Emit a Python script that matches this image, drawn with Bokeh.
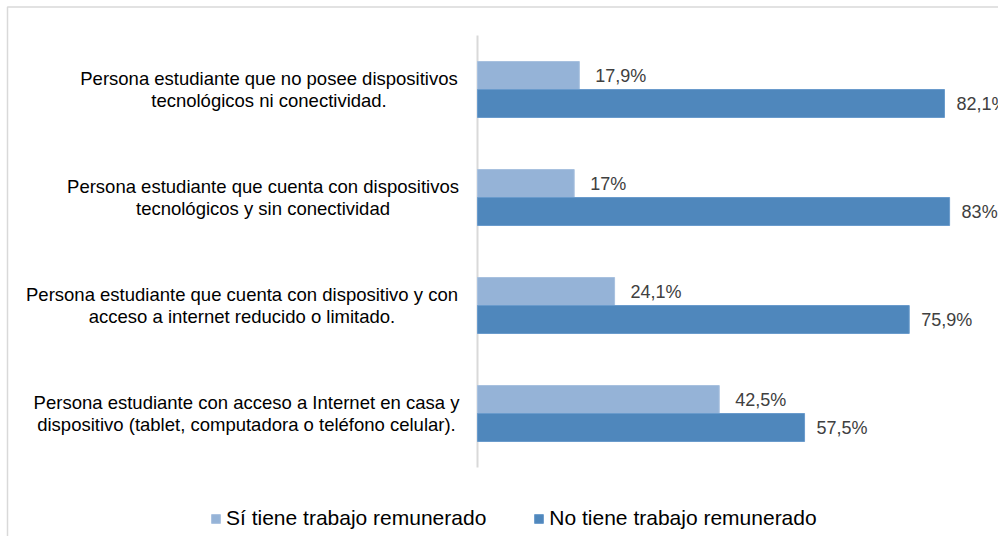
from bokeh.plotting import figure
from bokeh.models import ColumnDataSource, Range1d, Legend, LegendItem
from bokeh.transform import dodge
from bokeh.core.properties import value
from bokeh.embed import file_html
from bokeh.resources import INLINE

categories = [
    "Persona estudiante que no posee dispositivos\ntecnológicos ni conectividad.",
    "Persona estudiante que cuenta con dispositivos\ntecnológicos y sin conectividad",
    "Persona estudiante que cuenta con dispositivo y con\nacceso a internet reducido o limitado.",
    "Persona estudiante con acceso a Internet en casa y\ndispositivo (tablet, computadora o teléfono celular).",
]
si_trabajo = [17.9, 17.0, 24.1, 42.5]
no_trabajo = [82.1, 83.0, 75.9, 57.5]
si_labels = ["17,9%", "17%", "24,1%", "42,5%"]
no_labels = ["82,1%", "83%", "75,9%", "57,5%"]
series_names = ["Sí tiene trabajo remunerado", "No tiene trabajo remunerado"]

# layout: screen offsets (px from the value axis) of the category label block centres
cat_label_offsets = [-208.5, -214.5, -235.5, -231.0]

n = len(categories)
ypos = [n - 1 - i for i in range(n)]

src = ColumnDataSource(dict(
    y=ypos, cat=categories, si=si_trabajo, no=no_trabajo,
    si_lab=si_labels, no_lab=no_labels, zero=[0] * n, off=cat_label_offsets,
))

FONT = "Liberation Sans"
LIGHT = "#95B3D7"
DARK = "#4F87BC"
GRID = "#d9d9d9"

W, H = 998, 536
pxu = 5.688       # px per percentage point
x0px = 477        # screen x of the value axis
unit_y = 108.0    # px per category
top_pad = 35      # screen y of the top of the value axis

x_start = -x0px / pxu
x_end = (W - x0px) / pxu
y_end = (n - 0.5) + top_pad / unit_y
y_start = y_end - H / unit_y

p = figure(
    width=W, height=H, output_backend="svg", toolbar_location=None,
    x_range=Range1d(x_start, x_end), y_range=Range1d(y_start, y_end),
    x_axis_type=None, y_axis_type=None, min_border=0,
)
p.grid.visible = False
p.outline_line_color = None
p.background_fill_color = "white"
p.border_fill_color = "white"

# chart-area border (inset ~7px at left/top, running off the right/bottom edges)
p.quad(left=x_start + 7 / pxu, right=x_end + 5, top=y_end - 6.5 / unit_y,
       bottom=y_start - 5, fill_color=None, line_color=GRID, line_width=1.5)

bh = 28 / unit_y
# value axis line
p.segment(x0=0, x1=0, y0=-0.5, y1=n - 0.5, line_color=GRID, line_width=2)

r_si = p.hbar(y=dodge("y", bh / 2, range=p.y_range), left="zero", right="si", height=bh,
              source=src, fill_color=LIGHT, line_color="#a8c1df", line_width=1)
r_no = p.hbar(y=dodge("y", -bh / 2, range=p.y_range), left="zero", right="no", height=bh,
              source=src, fill_color=DARK, line_color="#6a9bcc", line_width=1)

p.text(x="si", y=dodge("y", bh / 2, range=p.y_range), text="si_lab", source=src,
       x_offset=16, text_align="left", text_baseline="middle",
       text_font=value(FONT), text_font_size="18px", text_color="#404040")
p.text(x="no", y=dodge("y", -bh / 2, range=p.y_range), text="no_lab", source=src,
       x_offset=12, text_align="left", text_baseline="middle",
       text_font=value(FONT), text_font_size="18px", text_color="#404040")

p.text(x="zero", y="y", text="cat", source=src, x_offset="off",
       text_align="center", text_baseline="middle", text_line_height=1.08,
       text_font=value(FONT), text_font_size="18.5px", text_color="#000000")

legend = Legend(
    items=[LegendItem(label=series_names[0], renderers=[r_si]),
           LegendItem(label=series_names[1], renderers=[r_no])],
    orientation="horizontal", location=(210, 6),
    glyph_width=11, glyph_height=11, label_standoff=5, spacing=47,
    padding=0, margin=0, border_line_color=None, background_fill_alpha=0,
    label_text_font=FONT, label_text_font_size="21px", label_text_color="#000000",
    label_height=24,
)
p.add_layout(legend)

open("out.html", "w").write(file_html(p, INLINE))
